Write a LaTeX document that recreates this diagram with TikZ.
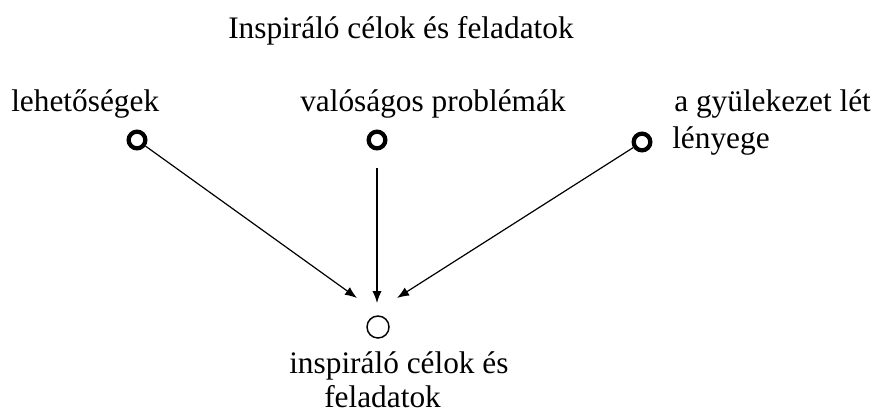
\documentclass[tikz,border=0pt]{standalone}
\usepackage{fontspec}
\setmainfont{Liberation Serif}
\usetikzlibrary{arrows.meta}
\begin{document}
\begin{tikzpicture}[x=0.75pt,y=-0.75pt]
			\tikzset{label/.style = {inner sep=0pt, anchor=base west, font=\fontsize{23.5}{28}\selectfont}}
			\tikzset{source/.style = {shape=circle, draw, line width=3.2pt, minimum size=12.5pt, inner sep=0pt}}
			\tikzset{goal/.style = {shape=circle, draw, line width=1.1pt, minimum size=16.5pt, inner sep=0pt}}
			\tikzset{edge/.style = {-{Latex[length=9pt,width=7pt]}, line width=0.9pt}}
			\useasboundingbox (0,0) rectangle (877,414);
			% Title
			\node[label] (title) at (228,38) {Inspiráló célok és feladatok};
			% Sources
			\node[label] (lehet) at (11,111) {lehetőségek};
			\node[label] (valo) at (300,111) {valóságos problémák};
			\node[label] (gyul) at (674,111) {a gyülekezet lét};
			\node[label] (lenyeg) at (672,148) {lényege};
			\node[source] (A) at (137,140) {};
			\node[source] (B) at (377,140) {};
			\node[source] (C) at (642,142) {};
			% Goal
			\node[goal] (G) at (378,327) {};
			\node[label] (insp) at (289,373) {inspiráló célok és};
			\node[label] (fel) at (324,407) {feladatok};
			\coordinate (tA) at (357,298);
			\coordinate (tB) at (377,303);
			\coordinate (tC) at (397,298);
			\draw[edge] (A) -- (tA);
			\draw[edge, shorten <=13pt] (B) -- (tB);
			\draw[edge] (C) -- (tC);
		\end{tikzpicture}
\end{document}
